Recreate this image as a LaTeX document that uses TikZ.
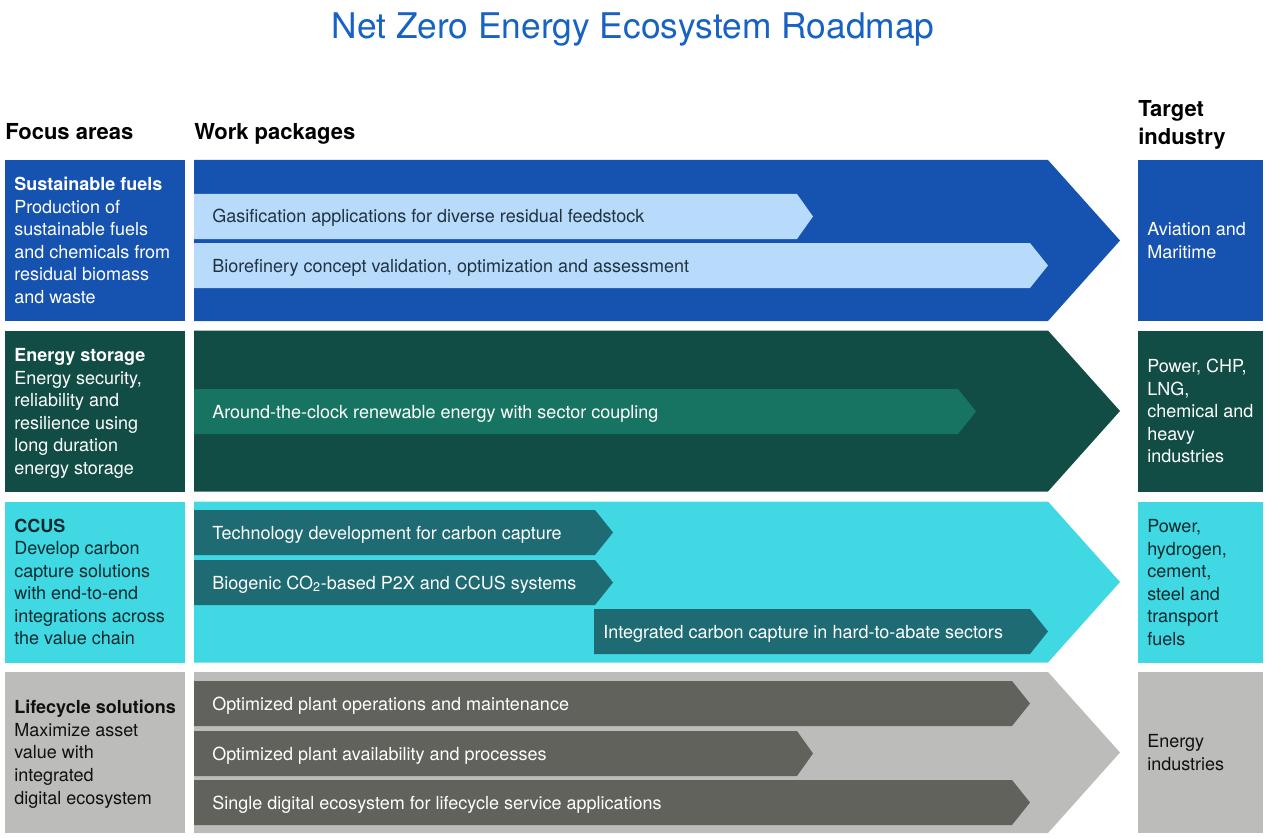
\documentclass[tikz,border=0pt]{standalone}
\usepackage{fontspec}
\setmainfont{TeX Gyre Heros}
\usepackage{xcolor}
\usepackage{tikz}

\definecolor{titleblue}{HTML}{1762C2}
\definecolor{fuelsblue}{HTML}{1652AF}
\definecolor{fuelslight}{HTML}{B8DAFB}
\definecolor{fuelsink}{HTML}{1F3344}
\definecolor{storagegreen}{HTML}{114D44}
\definecolor{storagemid}{HTML}{187462}
\definecolor{ccuscyan}{HTML}{40D8E3}
\definecolor{ccusteal}{HTML}{1F6B73}
\definecolor{ccusink}{HTML}{0D2A2E}
\definecolor{lifegray}{HTML}{BCBCBB}
\definecolor{lifedark}{HTML}{62625C}
\definecolor{lifeink}{HTML}{111111}

\begin{document}
\begin{tikzpicture}[x=0.75pt, y=-0.75pt]
						\tikzstyle{txt}=[inner sep=0pt, align=left, anchor=base west, font=\fontsize{13.5pt}{16.9pt}\selectfont]
						\tikzstyle{head}=[inner sep=0pt, align=left, anchor=base west, font=\fontsize{16.5pt}{20.7pt}\selectfont\bfseries]
						\useasboundingbox (0,0) rectangle (1267,838);
						% title and column heads (multi-line texts sit on their last baseline)
						\node[inner sep=0pt, anchor=base, color=titleblue, font=\fontsize{26.5pt}{30pt}\selectfont](title) at (633,39) {Net Zero Energy Ecosystem Roadmap};
						\node[head](focus) at (5,139.3) {Focus areas};
						\node[head](work) at (194,139.3) {Work packages};
						\node[head](target) at (1138,144.3) {Target\\industry};
						% sustainable fuels
						\fill[fuelsblue] (5,160) rectangle (185,321);
						\fill[fuelsblue] (1138,160) rectangle (1263,321);
						\fill[fuelsblue] (194,160) -- (1048,160) -- (1120,240.5) -- (1048,321) -- (194,321) -- cycle;
						\fill[fuelslight] (194,194) -- (797,194) -- (813,216.5) -- (797,239) -- (194,239) -- cycle;
						\fill[fuelslight] (194,243) -- (1030,243) -- (1048,265.5) -- (1030,288) -- (194,288) -- cycle;
						\node[txt, color=white](fuels) at (14,303.2) {\textbf{Sustainable fuels}\\Production of\\sustainable fuels\\and chemicals from\\residual biomass\\and waste};
						\node[txt, color=fuelsink](gasif) at (212,223) {Gasification applications for diverse residual feedstock};
						\node[txt, color=fuelsink](biore) at (212,272) {Biorefinery concept validation, optimization and assessment};
						\node[txt, color=white](aviation) at (1147,258.2) {Aviation and\\Maritime};
						% energy storage
						\fill[storagegreen] (5,330.5) rectangle (185,491.5);
						\fill[storagegreen] (1138,330.5) rectangle (1263,491.5);
						\fill[storagegreen] (194,330.5) -- (1048,330.5) -- (1120,411) -- (1048,491.5) -- (194,491.5) -- cycle;
						\fill[storagemid] (194,389) -- (958,389) -- (976,411.5) -- (958,434) -- (194,434) -- cycle;
						\node[txt, color=white](storage) at (14,474.2) {\textbf{Energy storage}\\Energy security,\\reliability and\\resilience using\\long duration\\energy storage};
						\node[txt, color=white](clock) at (212,418) {Around-the-clock renewable energy with sector coupling};
						\node[txt, color=white](power) at (1147,462.7) {Power, CHP,\\LNG,\\chemical and\\heavy\\industries};
						% ccus
						\fill[ccuscyan] (5,501.5) rectangle (185,662.5);
						\fill[ccuscyan] (1138,501.5) rectangle (1263,662.5);
						\fill[ccuscyan] (194,501.5) -- (1048,501.5) -- (1120,582) -- (1048,662.5) -- (194,662.5) -- cycle;
						\fill[ccusteal] (194,510) -- (595,510) -- (613,532.5) -- (595,555) -- (194,555) -- cycle;
						\fill[ccusteal] (194,560) -- (595,560) -- (613,582.5) -- (595,605) -- (194,605) -- cycle;
						\fill[ccusteal] (594,609) -- (1030,609) -- (1048,631.5) -- (1030,654) -- (594,654) -- cycle;
						\node[txt, color=ccusink](ccus) at (14,644.8) {\textbf{CCUS}\\Develop carbon\\capture solutions\\with end-to-end\\integrations across\\the value chain};
						\node[txt, color=white](techdev) at (212,539) {Technology development for carbon capture};
						\node[txt, color=white](biogenic) at (212,589) {Biogenic CO\textsubscript{2}-based P2X and CCUS systems};
						\node[txt, color=white](hardabate) at (603,638) {Integrated carbon capture in hard-to-abate sectors};
						\node[txt, color=ccusink](hydrogen) at (1147,645.2) {Power,\\hydrogen,\\cement,\\steel and\\transport\\fuels};
						% lifecycle solutions
						\fill[lifegray] (5,672) rectangle (185,833);
						\fill[lifegray] (1138,672) rectangle (1263,833);
						\fill[lifegray] (194,672) -- (1048,672) -- (1120,752.5) -- (1048,833) -- (194,833) -- cycle;
						\fill[lifedark] (194,681) -- (1012,681) -- (1030,703.5) -- (1012,726) -- (194,726) -- cycle;
						\fill[lifedark] (194,731) -- (797,731) -- (813,753.5) -- (797,776) -- (194,776) -- cycle;
						\fill[lifedark] (194,780) -- (1012,780) -- (1030,802.5) -- (1012,825) -- (194,825) -- cycle;
						\node[txt, color=lifeink](lifecycle) at (14,804) {\textbf{Lifecycle solutions}\\Maximize asset\\value with\\integrated\\digital ecosystem};
						\node[txt, color=white](operations) at (212,710) {Optimized plant operations and maintenance};
						\node[txt, color=white](availability) at (212,760) {Optimized plant availability and processes};
						\node[txt, color=white](single) at (212,809) {Single digital ecosystem for lifecycle service applications};
						\node[txt, color=lifeink](energyind) at (1147,770.2) {Energy\\industries};
					\end{tikzpicture}
\end{document}
